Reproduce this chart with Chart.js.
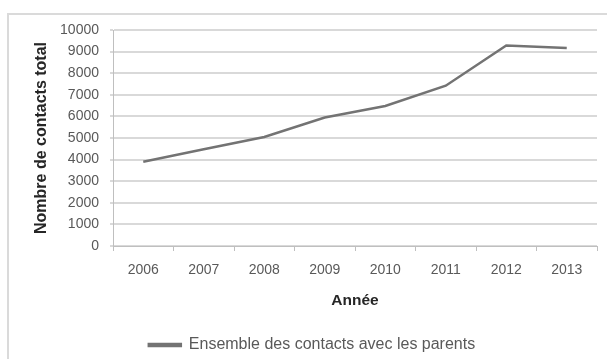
<!DOCTYPE html>
<html>
<head>
<meta charset="utf-8">
<script src="https://cdn.jsdelivr.net/npm/chart.js@4/dist/chart.umd.min.js"></script>
<style>
  html, body { margin: 0; padding: 0; background: #fff; }
  #wrap { position: relative; width: 607px; height: 359px; overflow: hidden; }
  #frame { position: absolute; left: 7px; top: 13px; width: 640px; height: 400px; border: 2px solid #dadada; box-sizing: border-box; }
  #c { position: absolute; left: 0; top: 0; }
</style>
</head>
<body>
<div id="wrap">
  <div id="frame"></div>
  <canvas id="c" width="607" height="359"></canvas>
</div>
<script>
const years = ["2006", "2007", "2008", "2009", "2010", "2011", "2012", "2013"];
const contacts = [3900, 4480, 5050, 5950, 6480, 7420, 9280, 9170];
const yTicks = [0, 1000, 2000, 3000, 4000, 5000, 6000, 7000, 8000, 9000, 10000];
const seriesName = "Ensemble des contacts avec les parents";
const xTitle = "Année";
const yTitle = "Nombre de contacts total";

const FONT = "'Liberation Sans', Arial, sans-serif";

new Chart(document.getElementById('c'), {
  type: 'line',
  data: {
    labels: years,
    datasets: [{
      label: seriesName,
      data: contacts,
      borderColor: '#737373',
      backgroundColor: '#808080',
      borderWidth: 2.5,
      pointRadius: 0,
      tension: 0,
      fill: false
    }]
  },
  options: {
    responsive: false,
    animation: false,
    devicePixelRatio: 1,
    layout: { padding: { left: 27, right: 10, top: 30, bottom: -4 } },
    plugins: {
      tooltip: { enabled: false },
      legend: {
        position: 'bottom',
        labels: {
          font: { family: FONT, size: 16 },
          color: '#595959',
          boxWidth: 32,
          boxHeight: 2,
          padding: 2
        }
      }
    },
    scales: {
      x: {
        offset: true,
        afterFit: s => { s.height = 89; },
        grid: { display: true, drawOnChartArea: false, offset: true, tickLength: 5, color: '#bfbfbf', lineWidth: 1 },
        border: { display: true, color: '#bfbfbf', width: 1 },
        ticks: { font: { family: FONT, size: 14 }, color: '#595959', padding: 11, maxRotation: 0 },
        title: { display: true, text: xTitle, font: { family: FONT, size: 15.5, weight: 'bold' }, color: '#262626', padding: { top: 0, bottom: 25 } }
      },
      y: {
        min: 0,
        max: 10000,
        afterFit: s => { s.width = 86; },
        afterBuildTicks: s => { s.ticks = yTicks.map(v => ({ value: v })); },
        grid: { color: '#d9d9d9', lineWidth: 2, tickLength: 3, drawTicks: true },
        border: { display: true, color: '#bfbfbf', width: 1 },
        ticks: { font: { family: FONT, size: 14 }, color: '#595959', padding: 11, callback: v => String(v) },
        title: { display: true, text: yTitle, font: { family: FONT, size: 16, weight: 'bold' }, color: '#262626', padding: { top: 5, bottom: 0 } }
      }
    }
  }
});
</script>
</body>
</html>
